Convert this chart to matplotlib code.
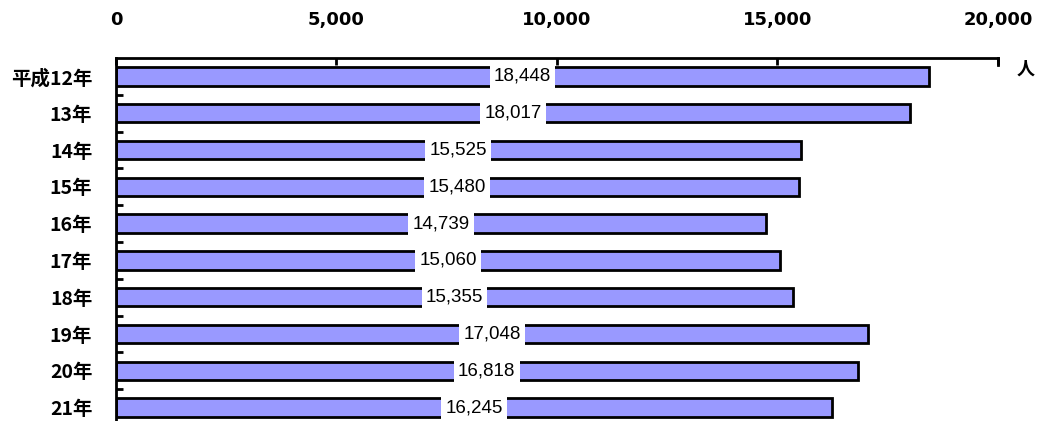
import matplotlib.pyplot as plt
import numpy as np

plt.rcParams['font.family'] = ['Noto Sans CJK JP', 'DejaVu Sans']

years = ['平成12年', '13年', '14年', '15年', '16年', '17年', '18年', '19年', '20年', '21年']
persons = [18448, 18017, 15525, 15480, 14739, 15060, 15355, 17048, 16818, 16245]
xticks = [0, 5000, 10000, 15000, 20000]

fig = plt.figure(figsize=(10.4, 4.21), dpi=100)
ax = fig.add_axes([0.1115, -0.012, 0.848, 0.874])

y = np.arange(len(years))
ax.barh(y, persons, height=0.5, color='#9999FF', edgecolor='black', linewidth=2)

for yi, v in zip(y, persons):
    ax.text(v / 2, yi, f'{v:,}', ha='center', va='center', fontsize=13.5,
            family=['Liberation Sans', 'DejaVu Sans'],
            bbox=dict(facecolor='white', edgecolor='none', pad=3))

ax.set_xlim(0, 20000)
ax.set_ylim(len(years) - 0.5, -0.5)
ax.xaxis.tick_top()
ax.set_xticks(xticks)
ax.set_xticklabels([f'{t:,}' for t in xticks], fontsize=13, fontweight='bold',
                   family=['DejaVu Sans'])
ax.tick_params(axis='x', direction='in', length=5, width=2, pad=21)

ax.set_yticks(y)
ax.set_yticklabels(years, fontsize=14, fontweight='bold')
ax.tick_params(axis='y', length=0, pad=17)
ax.set_yticks(np.arange(len(years)) + 0.5, minor=True)
ax.tick_params(axis='y', which='minor', direction='in', length=5, width=2)

for s in ['right', 'bottom']:
    ax.spines[s].set_visible(False)
ax.spines['top'].set_linewidth(2)
ax.spines['left'].set_linewidth(2)
# small end tick at right of top axis
ax.plot([20000, 20000], [-0.5, -0.3], color='black', lw=2, clip_on=False)

fig.text(0.995, 0.835, '人', fontsize=13, fontweight='bold', ha='right', va='center')

fig.savefig('out.png', dpi=100)
